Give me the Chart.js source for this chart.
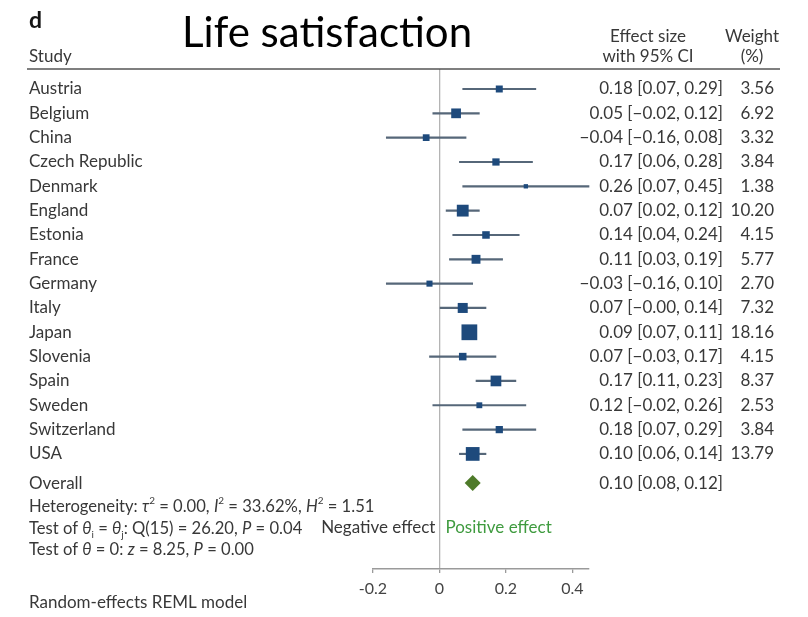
<!DOCTYPE html>
<html>
<head>
<meta charset="utf-8">
<title>Life satisfaction – forest plot</title>
<script src="https://cdn.jsdelivr.net/npm/chart.js@4.4.1/dist/chart.umd.min.js"></script>
<style>
  html, body { margin: 0; padding: 0; background: #ffffff; }
  canvas { display: block; }
</style>
</head>
<body>
<canvas id="forest" width="808" height="617"></canvas>
<script>
// Study-level estimates (effect size with 95% CI) and random-effects weights (%)
const studies = ['Austria', 'Belgium', 'China', 'Czech Republic', 'Denmark', 'England', 'Estonia', 'France',
                 'Germany', 'Italy', 'Japan', 'Slovenia', 'Spain', 'Sweden', 'Switzerland', 'USA'];
const effect  = [0.18, 0.05, -0.04, 0.17, 0.26, 0.07, 0.14, 0.11, -0.03, 0.07, 0.09, 0.07, 0.17, 0.12, 0.18, 0.10];
const ciLow   = [0.07, -0.02, -0.16, 0.06, 0.07, 0.02, 0.04, 0.03, -0.16, -0.00, 0.07, -0.03, 0.11, -0.02, 0.07, 0.06];
const ciHigh  = [0.29, 0.12, 0.08, 0.28, 0.45, 0.12, 0.24, 0.19, 0.10, 0.14, 0.11, 0.17, 0.23, 0.26, 0.29, 0.14];
const weights = [3.56, 6.92, 3.32, 3.84, 1.38, 10.20, 4.15, 5.77, 2.70, 7.32, 18.16, 4.15, 8.37, 2.53, 3.84, 13.79];

// Pooled estimate
const overallEffect = 0.10;
const overallLow = 0.08;
const overallHigh = 0.12;

// x-axis ticks
const xTicks = [-0.2, 0, 0.2, 0.4];
const xTickLabels = ['-0.2', '0', '0.2', '0.4'];

const FONT = 'Lato';
const TEXT = '#383838';
const n = studies.length;
const overallRow = n + 0.2;

function fmt(v) {
  const neg = v < 0 || Object.is(v, -0);
  return (neg ? '\u2212' : '') + Math.abs(v).toFixed(2);
}
function ciText(e, lo, hi) {
  return fmt(e) + ' [' + fmt(lo) + ', ' + fmt(hi) + ']';
}
// marker side grows with the square root of the weight (area ∝ weight)
function squareSide(w) { return 3.7 * Math.sqrt(w); }

// text made of runs: normal, italic, superscript, subscript
function drawRich(ctx, parts, x, y, size) {
  for (const [t, st] of parts) {
    let f = size, dy = 0, it = false;
    if (st === 'i') it = true;
    if (st === 'sup') { f = size * 0.6; dy = -size * 0.38; }
    if (st === 'sub') { f = size * 0.6; dy = size * 0.32; }
    ctx.font = (it ? 'italic ' : '') + f + 'px ' + FONT;
    ctx.fillText(t, x, y + dy);
    x += ctx.measureText(t).width;
  }
}

const textPlugin = {
  id: 'forestText',
  afterDraw(chart) {
    const ctx = chart.ctx;
    const ys = chart.scales.y;
    ctx.save();
    ctx.textAlign = 'left';
    ctx.textBaseline = 'alphabetic';

    // panel letter and title
    ctx.fillStyle = '#151515';
    ctx.font = 'bold 23px ' + FONT;
    ctx.fillText('d', 29, 28);
    ctx.fillStyle = '#000000';
    ctx.font = '42px ' + FONT;
    ctx.fillText('Life satisfaction', 182, 47);

    // column headers
    ctx.fillStyle = TEXT;
    ctx.font = '17px ' + FONT;
    ctx.fillText('Study', 29, 62);
    ctx.textAlign = 'center';
    ctx.fillText('Effect size', 648, 42);
    ctx.fillText('with 95% CI', 648, 62);
    ctx.fillText('Weight', 752, 42);
    ctx.fillText('(%)', 752, 62);

    // rule under the header
    ctx.strokeStyle = '#555555';
    ctx.lineWidth = 1.5;
    ctx.beginPath();
    ctx.moveTo(27, 69);
    ctx.lineTo(780, 69);
    ctx.stroke();

    // study rows
    ctx.textBaseline = 'middle';
    ctx.font = '17px ' + FONT;
    ctx.fillStyle = TEXT;
    for (let i = 0; i < n; i++) {
      const py = ys.getPixelForValue(i);
      ctx.textAlign = 'left';
      ctx.fillText(studies[i], 29, py);
      ctx.textAlign = 'right';
      ctx.fillText(ciText(effect[i], ciLow[i], ciHigh[i]), 723, py);
      ctx.fillText(weights[i].toFixed(2), 774, py);
    }
    const po = ys.getPixelForValue(overallRow);
    ctx.textAlign = 'left';
    ctx.fillText('Overall', 29, po);
    ctx.textAlign = 'right';
    ctx.fillText(ciText(overallEffect, overallLow, overallHigh), 723, po);

    // heterogeneity and test statistics
    ctx.textAlign = 'left';
    drawRich(ctx, [['Heterogeneity: ', 'n'], ['\u03c4', 'i'], ['2', 'sup'], [' = 0.00, ', 'n'],
                   ['I', 'i'], ['2', 'sup'], [' = 33.62%, ', 'n'], ['H', 'i'], ['2', 'sup'], [' = 1.51', 'n']],
             29, 507, 16.6);
    drawRich(ctx, [['Test of ', 'n'], ['\u03b8', 'i'], ['i', 'sub'], [' = ', 'n'], ['\u03b8', 'i'], ['j', 'sub'],
                   [': Q(15) = 26.20, ', 'n'], ['P', 'i'], [' = 0.04', 'n']],
             29, 529, 16.6);
    drawRich(ctx, [['Test of ', 'n'], ['\u03b8', 'i'], [' = 0: ', 'n'], ['z', 'i'], [' = 8.25, ', 'n'],
                   ['P', 'i'], [' = 0.00', 'n']],
             29, 550, 16.6);

    // direction labels either side of the null line
    const x0 = chart.scales.x.getPixelForValue(0);
    ctx.font = '17px ' + FONT;
    ctx.textAlign = 'right';
    ctx.fillStyle = TEXT;
    ctx.fillText('Negative effect', x0 - 4, 528);
    ctx.textAlign = 'left';
    ctx.fillStyle = '#3f9b3f';
    ctx.fillText('Positive effect', x0 + 6, 528);

    ctx.fillStyle = TEXT;
    ctx.font = '17px ' + FONT;
    ctx.fillText('Random-effects REML model', 29, 603);
    ctx.restore();
  }
};

const ciData = studies.map((s, i) => ({ y: i, x: [ciLow[i], ciHigh[i]] }));
const pointData = studies.map((s, i) => ({ x: effect[i], y: i }));

new Chart(document.getElementById('forest'), {
  type: 'scatter',
  data: {
    datasets: [
      {
        type: 'bar',
        indexAxis: 'y',
        data: ciData,
        backgroundColor: '#566779',
        borderWidth: 0,
        barThickness: 1.5,
        grouped: false,
        order: 3
      },
      {
        type: 'scatter',
        data: pointData,
        pointStyle: 'rect',
        pointRadius: ctx => squareSide(weights[ctx.dataIndex]) / Math.SQRT2,
        pointBackgroundColor: '#1e4a7c',
        pointBorderWidth: 0,
        order: 2
      },
      {
        type: 'scatter',
        data: [{ x: overallEffect, y: overallRow }],
        pointStyle: 'rectRot',
        pointRadius: 8,
        pointBackgroundColor: '#4e7a29',
        pointBorderWidth: 0,
        order: 1
      }
    ]
  },
  options: {
    responsive: false,
    devicePixelRatio: 1,
    animation: false,
    clip: false,
    events: [],
    layout: { padding: { left: 373, right: 219, top: 69, bottom: 0 } },
    plugins: { legend: { display: false }, tooltip: { enabled: false } },
    scales: {
      x: {
        type: 'linear',
        position: 'bottom',
        min: -0.2,
        max: 0.45,
        offset: false,
        afterBuildTicks: scale => { scale.ticks = xTicks.map(v => ({ value: v })); },
        afterFit: scale => { scale.height = 48; },
        ticks: {
          callback: (v, i) => xTickLabels[i],
          font: { family: FONT, size: 16 },
          color: '#444444',
          padding: 6,
          maxRotation: 0
        },
        grid: {
          offset: false,
          drawOnChartArea: true,
          color: ctx => (ctx.tick && ctx.tick.value === 0 ? '#b4b4b4' : 'rgba(0,0,0,0)'),
          lineWidth: 1.3,
          tickLength: 4,
          tickColor: '#9a9a9a',
          tickWidth: 1.3
        },
        border: { display: true, color: '#9a9a9a', width: 1.5 }
      },
      y: {
        type: 'linear',
        reverse: true,
        min: -0.822,
        max: 19.73,
        offset: false,
        grid: { offset: false },
        display: false
      }
    }
  },
  plugins: [textPlugin]
});
</script>
</body>
</html>
